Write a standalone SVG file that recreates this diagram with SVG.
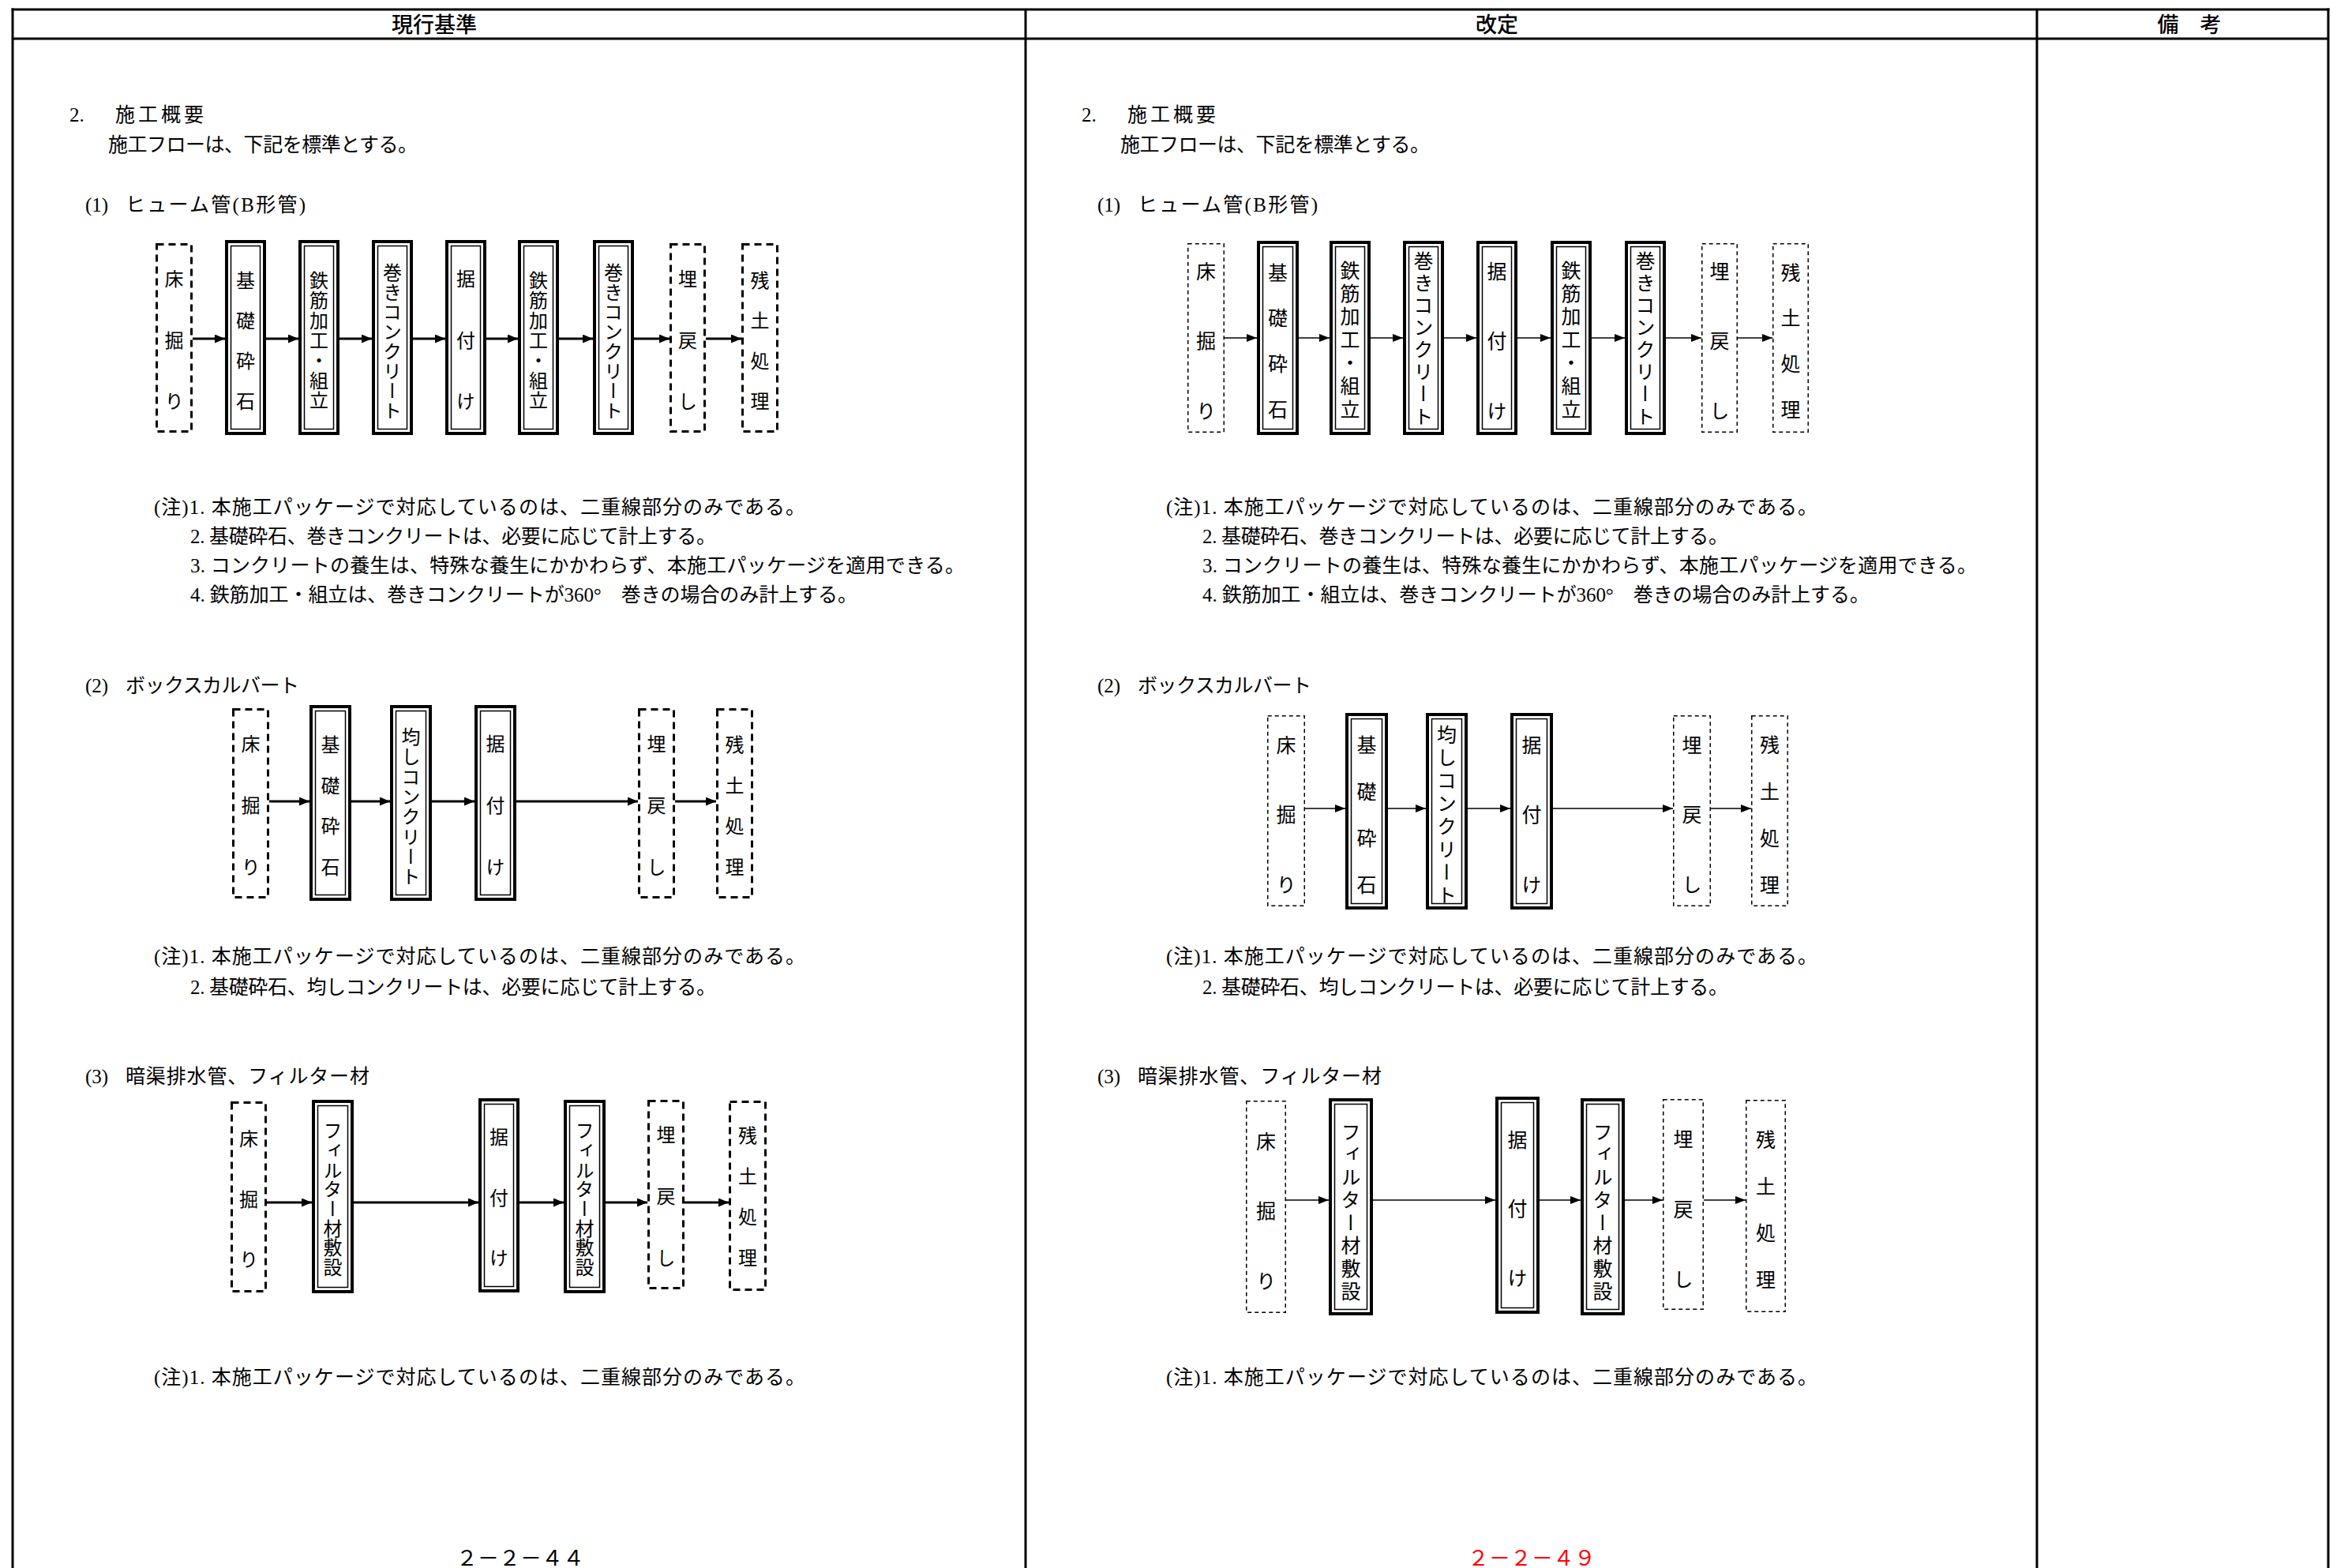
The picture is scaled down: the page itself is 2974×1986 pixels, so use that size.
<svg xmlns="http://www.w3.org/2000/svg" width="2974" height="1986" viewBox="0 0 2974 1986">
<defs>
<style>
.t{font-family:"Liberation Serif","Noto Sans CJK JP",serif;font-size:25px;font-weight:400;fill:#000}
.h{font-family:"Noto Sans CJK JP","Liberation Sans",sans-serif;font-size:27px;font-weight:500;fill:#000}
.bl text{font-family:"Noto Sans CJK JP",sans-serif;font-size:24px;font-weight:400;fill:#000;writing-mode:vertical-rl}
.br text{font-family:"Noto Sans CJK JP",sans-serif;font-size:25px;font-weight:400;fill:#000;writing-mode:vertical-rl}
.pg{font-family:"Noto Sans CJK JP",sans-serif;font-size:27px}
.frame{stroke:#000;stroke-width:3;fill:none}
.dl{fill:#fff;stroke:#000;stroke-width:3;stroke-dasharray:9 6}
.dr{fill:#fff;stroke:#000;stroke-width:1.5;stroke-dasharray:5 4}
.o{fill:#fff;stroke:#000;stroke-width:4}
.i{fill:none;stroke:#000;stroke-width:1.5}
.al{stroke:#000;stroke-width:3;fill:none;marker-end:url(#ahL)}
.ar{stroke:#000;stroke-width:1.5;fill:none;marker-end:url(#ahR)}
</style>
<marker id="ahL" markerWidth="13" markerHeight="11" refX="13" refY="5.5" orient="auto" markerUnits="userSpaceOnUse"><path d="M0,0 L13,5.5 L0,11 z" fill="#000"/></marker>
<marker id="ahR" markerWidth="13" markerHeight="10" refX="13" refY="5" orient="auto" markerUnits="userSpaceOnUse"><path d="M0,0 L13,5 L0,10 z" fill="#000"/></marker>
</defs>
<rect width="2974" height="1986" fill="#fff"/>

<g id="table">
<line class="frame" x1="14.5" y1="12" x2="2950.5" y2="12"/>
<line class="frame" x1="16" y1="49" x2="2949" y2="49"/>
<line class="frame" x1="16" y1="10.5" x2="16" y2="1986"/>
<line class="frame" x1="1299" y1="12" x2="1299" y2="1986"/>
<line class="frame" x1="2580" y1="12" x2="2580" y2="1986"/>
<line class="frame" x1="2949" y1="10.5" x2="2949" y2="1986"/>
<text class="h" x="550" y="41" text-anchor="middle">現行基準</text>
<text class="h" x="1896" y="41" text-anchor="middle">改定</text>
<text class="h" x="2773" y="41" text-anchor="middle">備　考</text>
</g>

<g id="text-left">
<text class="t" x="88" y="153.5">2.<tspan x="146" textLength="112">施工概要</tspan></text>
<text class="t" x="137" y="191.5" textLength="392">施工フローは、下記を標準とする。</text>
<text class="t" x="108" y="267.5">(1)<tspan x="159" textLength="228">ヒューム管(B形管)</tspan></text>
<text class="t" x="195" y="650.5" textLength="825">(注)1. 本施工パッケージで対応しているのは、二重線部分のみである。</text>
<text class="t" x="241" y="687.5" textLength="666">2. 基礎砕石、巻きコンクリートは、必要に応じて計上する。</text>
<text class="t" x="241" y="724.5" textLength="981">3. コンクリートの養生は、特殊な養生にかかわらず、本施工パッケージを適用できる。</text>
<text class="t" x="241" y="761.5" textLength="845">4. 鉄筋加工・組立は、巻きコンクリートが360°　巻きの場合のみ計上する。</text>
<text class="t" x="108" y="876.5">(2)<tspan x="159" textLength="220">ボックスカルバート</tspan></text>
<text class="t" x="195" y="1220" textLength="825">(注)1. 本施工パッケージで対応しているのは、二重線部分のみである。</text>
<text class="t" x="241" y="1259" textLength="666">2. 基礎砕石、均しコンクリートは、必要に応じて計上する。</text>
<text class="t" x="108" y="1371.5">(3)<tspan x="159" textLength="309">暗渠排水管、フィルター材</tspan></text>
<text class="t" x="195" y="1752.5" textLength="825">(注)1. 本施工パッケージで対応しているのは、二重線部分のみである。</text>
<text class="pg" x="578" y="1983" textLength="162" fill="#000">２－２－４４</text>
</g>

<g id="text-right">
<text class="t" x="1370" y="153.5">2.<tspan x="1428" textLength="112">施工概要</tspan></text>
<text class="t" x="1419" y="191.5" textLength="392">施工フローは、下記を標準とする。</text>
<text class="t" x="1390" y="267.5">(1)<tspan x="1441" textLength="228">ヒューム管(B形管)</tspan></text>
<text class="t" x="1477" y="650.5" textLength="825">(注)1. 本施工パッケージで対応しているのは、二重線部分のみである。</text>
<text class="t" x="1523" y="687.5" textLength="666">2. 基礎砕石、巻きコンクリートは、必要に応じて計上する。</text>
<text class="t" x="1523" y="724.5" textLength="981">3. コンクリートの養生は、特殊な養生にかかわらず、本施工パッケージを適用できる。</text>
<text class="t" x="1523" y="761.5" textLength="845">4. 鉄筋加工・組立は、巻きコンクリートが360°　巻きの場合のみ計上する。</text>
<text class="t" x="1390" y="876.5">(2)<tspan x="1441" textLength="220">ボックスカルバート</tspan></text>
<text class="t" x="1477" y="1220" textLength="825">(注)1. 本施工パッケージで対応しているのは、二重線部分のみである。</text>
<text class="t" x="1523" y="1259" textLength="666">2. 基礎砕石、均しコンクリートは、必要に応じて計上する。</text>
<text class="t" x="1390" y="1371.5">(3)<tspan x="1441" textLength="309">暗渠排水管、フィルター材</tspan></text>
<text class="t" x="1477" y="1752.5" textLength="825">(注)1. 本施工パッケージで対応しているのは、二重線部分のみである。</text>
<text class="pg" x="1859" y="1983" textLength="162" fill="#ff0000">２－２－４９</text>
</g>

<g id="connectors">
<line class="al" x1="244" y1="429" x2="285" y2="429"/>
<line class="al" x1="337" y1="429" x2="378" y2="429"/>
<line class="al" x1="430" y1="429" x2="471" y2="429"/>
<line class="al" x1="523" y1="429" x2="564" y2="429"/>
<line class="al" x1="616" y1="429" x2="656" y2="429"/>
<line class="al" x1="708" y1="429" x2="751" y2="429"/>
<line class="al" x1="803" y1="429" x2="848" y2="429"/>
<line class="al" x1="894" y1="429" x2="939" y2="429"/>

<line class="ar" x1="1551" y1="428" x2="1592" y2="428"/>
<line class="ar" x1="1645" y1="428" x2="1684" y2="428"/>
<line class="ar" x1="1736" y1="428" x2="1777" y2="428"/>
<line class="ar" x1="1829" y1="428" x2="1870" y2="428"/>
<line class="ar" x1="1922" y1="428" x2="1964" y2="428"/>
<line class="ar" x1="2016" y1="428" x2="2058" y2="428"/>
<line class="ar" x1="2110" y1="428" x2="2155" y2="428"/>
<line class="ar" x1="2201" y1="428" x2="2245" y2="428"/>

<line class="al" x1="341" y1="1015" x2="392" y2="1015"/>
<line class="al" x1="445" y1="1015" x2="494" y2="1015"/>
<line class="al" x1="547" y1="1015" x2="601" y2="1015"/>
<line class="al" x1="654" y1="1015" x2="808" y2="1015"/>
<line class="al" x1="855" y1="1015" x2="907" y2="1015"/>

<line class="ar" x1="1653" y1="1024" x2="1704" y2="1024"/>
<line class="ar" x1="1758" y1="1024" x2="1806" y2="1024"/>
<line class="ar" x1="1859" y1="1024" x2="1913" y2="1024"/>
<line class="ar" x1="1967" y1="1024" x2="2119" y2="1024"/>
<line class="ar" x1="2167" y1="1024" x2="2218" y2="1024"/>

<line class="al" x1="338" y1="1523" x2="395" y2="1523"/>
<line class="al" x1="448" y1="1523" x2="606" y2="1523"/>
<line class="al" x1="658" y1="1523" x2="714" y2="1523"/>
<line class="al" x1="767" y1="1523" x2="820" y2="1523"/>
<line class="al" x1="867" y1="1523" x2="923" y2="1523"/>

<line class="ar" x1="1629" y1="1520" x2="1683" y2="1520"/>
<line class="ar" x1="1739" y1="1520" x2="1894" y2="1520"/>
<line class="ar" x1="1950" y1="1520" x2="2002" y2="1520"/>
<line class="ar" x1="2058" y1="1520" x2="2106" y2="1520"/>
<line class="ar" x1="2158" y1="1520" x2="2211" y2="1520"/>
</g>

<!-- Flow 1 left -->
<g id="L1-1" class="bl"><rect class="dl" x="198.5" y="309.5" width="44" height="237"/>
<text x="220.5" y="341">床</text><text x="220.5" y="418.5">掘</text><text x="220.5" y="496">り</text></g>
<g id="L1-2" class="bl"><rect class="o" x="287" y="306" width="48" height="243"/><rect class="i" x="292.5" y="311.5" width="37" height="232"/>
<text x="311" y="343">基</text><text x="311" y="394">礎</text><text x="311" y="445">砕</text><text x="311" y="496">石</text></g>
<g id="L1-3" class="bl"><rect class="o" x="380" y="306" width="48" height="243"/><rect class="i" x="385.5" y="311.5" width="37" height="232"/>
<text x="404" y="343">鉄</text><text x="404" y="368.3">筋</text><text x="404" y="393.7">加</text><text x="404" y="419">工</text><text x="404" y="444.3">・</text><text x="404" y="469.7">組</text><text x="404" y="495">立</text></g>
<g id="L1-4" class="bl"><rect class="o" x="473" y="306" width="48" height="243"/><rect class="i" x="478.5" y="311.5" width="37" height="232"/>
<text x="497" y="333">巻</text><text x="497" y="358">き</text><text x="497" y="383">コ</text><text x="497" y="408">ン</text><text x="497" y="433">ク</text><text x="497" y="458">リ</text><text x="497" y="483">ー</text><text x="497" y="508">ト</text></g>
<g id="L1-5" class="bl"><rect class="o" x="566" y="306" width="48" height="243"/><rect class="i" x="571.5" y="311.5" width="37" height="232"/>
<text x="590" y="341">据</text><text x="590" y="418.5">付</text><text x="590" y="496">け</text></g>
<g id="L1-6" class="bl"><rect class="o" x="658" y="306" width="48" height="243"/><rect class="i" x="663.5" y="311.5" width="37" height="232"/>
<text x="682" y="343">鉄</text><text x="682" y="368.3">筋</text><text x="682" y="393.7">加</text><text x="682" y="419">工</text><text x="682" y="444.3">・</text><text x="682" y="469.7">組</text><text x="682" y="495">立</text></g>
<g id="L1-7" class="bl"><rect class="o" x="753" y="306" width="48" height="243"/><rect class="i" x="758.5" y="311.5" width="37" height="232"/>
<text x="777" y="333">巻</text><text x="777" y="358">き</text><text x="777" y="383">コ</text><text x="777" y="408">ン</text><text x="777" y="433">ク</text><text x="777" y="458">リ</text><text x="777" y="483">ー</text><text x="777" y="508">ト</text></g>
<g id="L1-8" class="bl"><rect class="dl" x="849.5" y="309.5" width="43" height="237"/>
<text x="871" y="341">埋</text><text x="871" y="418.5">戻</text><text x="871" y="496">し</text></g>
<g id="L1-9" class="bl"><rect class="dl" x="940.5" y="309.5" width="44" height="237"/>
<text x="962.5" y="343">残</text><text x="962.5" y="394">土</text><text x="962.5" y="445">処</text><text x="962.5" y="496">理</text></g>

<!-- Flow 1 right -->
<g id="R1-1" class="br"><rect class="dr" x="1504.75" y="308.75" width="45.5" height="238.5"/>
<text x="1527.5" y="330.5">床</text><text x="1527.5" y="419">掘</text><text x="1527.5" y="507.5">り</text></g>
<g id="R1-2" class="br"><rect class="o" x="1594" y="307" width="49" height="242"/><rect class="i" x="1599.5" y="312.5" width="38" height="231"/>
<text x="1618.5" y="332.5">基</text><text x="1618.5" y="390.2">礎</text><text x="1618.5" y="447.8">砕</text><text x="1618.5" y="505.5">石</text></g>
<g id="R1-3" class="br"><rect class="o" x="1686" y="307" width="48" height="242"/><rect class="i" x="1691.5" y="312.5" width="37" height="231"/>
<text x="1710" y="329.5">鉄</text><text x="1710" y="358.8">筋</text><text x="1710" y="388.2">加</text><text x="1710" y="417.5">工</text><text x="1710" y="446.8">・</text><text x="1710" y="476.2">組</text><text x="1710" y="505.5">立</text></g>
<g id="R1-4" class="br"><rect class="o" x="1779" y="307" width="48" height="242"/><rect class="i" x="1784.5" y="312.5" width="37" height="231"/>
<text x="1803" y="317.5">巻</text><text x="1803" y="345.6">き</text><text x="1803" y="373.8">コ</text><text x="1803" y="401.9">ン</text><text x="1803" y="430.1">ク</text><text x="1803" y="458.2">リ</text><text x="1803" y="486.4">ー</text><text x="1803" y="514.5">ト</text></g>
<g id="R1-5" class="br"><rect class="o" x="1872" y="307" width="48" height="242"/><rect class="i" x="1877.5" y="312.5" width="37" height="231"/>
<text x="1896" y="330.5">据</text><text x="1896" y="419">付</text><text x="1896" y="507.5">け</text></g>
<g id="R1-6" class="br"><rect class="o" x="1966" y="307" width="48" height="242"/><rect class="i" x="1971.5" y="312.5" width="37" height="231"/>
<text x="1990" y="329.5">鉄</text><text x="1990" y="358.8">筋</text><text x="1990" y="388.2">加</text><text x="1990" y="417.5">工</text><text x="1990" y="446.8">・</text><text x="1990" y="476.2">組</text><text x="1990" y="505.5">立</text></g>
<g id="R1-7" class="br"><rect class="o" x="2060" y="307" width="48" height="242"/><rect class="i" x="2065.5" y="312.5" width="37" height="231"/>
<text x="2084" y="317.5">巻</text><text x="2084" y="345.6">き</text><text x="2084" y="373.8">コ</text><text x="2084" y="401.9">ン</text><text x="2084" y="430.1">ク</text><text x="2084" y="458.2">リ</text><text x="2084" y="486.4">ー</text><text x="2084" y="514.5">ト</text></g>
<g id="R1-8" class="br"><rect class="dr" x="2155.75" y="308.75" width="44.5" height="238.5"/>
<text x="2178" y="330.5">埋</text><text x="2178" y="419">戻</text><text x="2178" y="507.5">し</text></g>
<g id="R1-9" class="br"><rect class="dr" x="2245.75" y="308.75" width="44.5" height="238.5"/>
<text x="2268" y="332.5">残</text><text x="2268" y="390.2">土</text><text x="2268" y="447.8">処</text><text x="2268" y="505.5">理</text></g>

<!-- Flow 2 left -->
<g id="L2-1" class="bl"><rect class="dl" x="295.5" y="898.5" width="44" height="238"/>
<text x="317.5" y="930">床</text><text x="317.5" y="1008">掘</text><text x="317.5" y="1086">り</text></g>
<g id="L2-2" class="bl"><rect class="o" x="394" y="895" width="49" height="244"/><rect class="i" x="399.5" y="900.5" width="38" height="233"/>
<text x="418.5" y="931">基</text><text x="418.5" y="982.7">礎</text><text x="418.5" y="1034.3">砕</text><text x="418.5" y="1086">石</text></g>
<g id="L2-3" class="bl"><rect class="o" x="496" y="895" width="49" height="244"/><rect class="i" x="501.5" y="900.5" width="38" height="233"/>
<text x="520.5" y="921">均</text><text x="520.5" y="946.3">し</text><text x="520.5" y="971.6">コ</text><text x="520.5" y="996.9">ン</text><text x="520.5" y="1022.1">ク</text><text x="520.5" y="1047.4">リ</text><text x="520.5" y="1072.7">ー</text><text x="520.5" y="1098">ト</text></g>
<g id="L2-4" class="bl"><rect class="o" x="603" y="895" width="49" height="244"/><rect class="i" x="608.5" y="900.5" width="38" height="233"/>
<text x="627.5" y="930">据</text><text x="627.5" y="1008">付</text><text x="627.5" y="1086">け</text></g>
<g id="L2-5" class="bl"><rect class="dl" x="809.5" y="898.5" width="44" height="238"/>
<text x="831.5" y="930">埋</text><text x="831.5" y="1008">戻</text><text x="831.5" y="1086">し</text></g>
<g id="L2-6" class="bl"><rect class="dl" x="908.5" y="898.5" width="44" height="238"/>
<text x="930.5" y="931">残</text><text x="930.5" y="982.7">土</text><text x="930.5" y="1034.3">処</text><text x="930.5" y="1086">理</text></g>

<!-- Flow 2 right -->
<g id="R2-1" class="br"><rect class="dr" x="1605.75" y="906.75" width="46.5" height="240.5"/>
<text x="1629" y="930.5">床</text><text x="1629" y="1019">掘</text><text x="1629" y="1107.5">り</text></g>
<g id="R2-2" class="br"><rect class="o" x="1706" y="905" width="50" height="245"/><rect class="i" x="1711.5" y="910.5" width="39" height="234"/>
<text x="1731" y="930.5">基</text><text x="1731" y="989.5">礎</text><text x="1731" y="1048.5">砕</text><text x="1731" y="1107.5">石</text></g>
<g id="R2-3" class="br"><rect class="o" x="1808" y="905" width="49" height="245"/><rect class="i" x="1813.5" y="910.5" width="38" height="234"/>
<text x="1832.5" y="917.5">均</text><text x="1832.5" y="946.5">し</text><text x="1832.5" y="975.5">コ</text><text x="1832.5" y="1004.5">ン</text><text x="1832.5" y="1033.5">ク</text><text x="1832.5" y="1062.5">リ</text><text x="1832.5" y="1091.5">ー</text><text x="1832.5" y="1120.5">ト</text></g>
<g id="R2-4" class="br"><rect class="o" x="1915" y="905" width="50" height="245"/><rect class="i" x="1920.5" y="910.5" width="39" height="234"/>
<text x="1940" y="930.5">据</text><text x="1940" y="1019">付</text><text x="1940" y="1107.5">け</text></g>
<g id="R2-5" class="br"><rect class="dr" x="2119.75" y="906.75" width="46.5" height="240.5"/>
<text x="2143" y="930.5">埋</text><text x="2143" y="1019">戻</text><text x="2143" y="1107.5">し</text></g>
<g id="R2-6" class="br"><rect class="dr" x="2218.75" y="906.75" width="45.5" height="240.5"/>
<text x="2241.5" y="930.5">残</text><text x="2241.5" y="989.5">土</text><text x="2241.5" y="1048.5">処</text><text x="2241.5" y="1107.5">理</text></g>

<!-- Flow 3 left -->
<g id="L3-1" class="bl"><rect class="dl" x="293.5" y="1396.5" width="43" height="239"/>
<text x="315" y="1430">床</text><text x="315" y="1506.5">掘</text><text x="315" y="1583">り</text></g>
<g id="L3-2" class="bl"><rect class="o" x="397" y="1395" width="49" height="241"/><rect class="i" x="402.5" y="1400.5" width="38" height="230"/>
<text x="421.5" y="1420">フ</text><text x="421.5" y="1444.7">ィ</text><text x="421.5" y="1469.4">ル</text><text x="421.5" y="1494.1">タ</text><text x="421.5" y="1518.9">ー</text><text x="421.5" y="1543.6">材</text><text x="421.5" y="1568.3">敷</text><text x="421.5" y="1593">設</text></g>
<g id="L3-3" class="bl"><rect class="o" x="608" y="1393" width="48" height="242"/><rect class="i" x="613.5" y="1398.5" width="37" height="231"/>
<text x="632" y="1428">据</text><text x="632" y="1504.5">付</text><text x="632" y="1581">け</text></g>
<g id="L3-4" class="bl"><rect class="o" x="716" y="1395" width="49" height="241"/><rect class="i" x="721.5" y="1400.5" width="38" height="230"/>
<text x="740.5" y="1420">フ</text><text x="740.5" y="1444.7">ィ</text><text x="740.5" y="1469.4">ル</text><text x="740.5" y="1494.1">タ</text><text x="740.5" y="1518.9">ー</text><text x="740.5" y="1543.6">材</text><text x="740.5" y="1568.3">敷</text><text x="740.5" y="1593">設</text></g>
<g id="L3-5" class="bl"><rect class="dl" x="821.5" y="1394.5" width="44" height="237"/>
<text x="843.5" y="1425">埋</text><text x="843.5" y="1503">戻</text><text x="843.5" y="1581">し</text></g>
<g id="L3-6" class="bl"><rect class="dl" x="924.5" y="1395.5" width="45" height="238"/>
<text x="947" y="1426">残</text><text x="947" y="1477.7">土</text><text x="947" y="1529.3">処</text><text x="947" y="1581">理</text></g>

<!-- Flow 3 right -->
<g id="R3-1" class="br"><rect class="dr" x="1578.75" y="1394.75" width="49.5" height="267.5"/>
<text x="1603.5" y="1432.5">床</text><text x="1603.5" y="1521">掘</text><text x="1603.5" y="1609.5">り</text></g>
<g id="R3-2" class="br"><rect class="o" x="1685" y="1393" width="52" height="271"/><rect class="i" x="1690.5" y="1398.5" width="41" height="260"/>
<text x="1711" y="1420.5">フ</text><text x="1711" y="1449.4">ィ</text><text x="1711" y="1478.2">ル</text><text x="1711" y="1507.1">タ</text><text x="1711" y="1535.9">ー</text><text x="1711" y="1564.8">材</text><text x="1711" y="1593.6">敷</text><text x="1711" y="1622.5">設</text></g>
<g id="R3-3" class="br"><rect class="o" x="1896" y="1391" width="52" height="271"/><rect class="i" x="1901.5" y="1396.5" width="41" height="260"/>
<text x="1922" y="1430.5">据</text><text x="1922" y="1518">付</text><text x="1922" y="1605.5">け</text></g>
<g id="R3-4" class="br"><rect class="o" x="2004" y="1393" width="52" height="271"/><rect class="i" x="2009.5" y="1398.5" width="41" height="260"/>
<text x="2030" y="1420.5">フ</text><text x="2030" y="1449.4">ィ</text><text x="2030" y="1478.2">ル</text><text x="2030" y="1507.1">タ</text><text x="2030" y="1535.9">ー</text><text x="2030" y="1564.8">材</text><text x="2030" y="1593.6">敷</text><text x="2030" y="1622.5">設</text></g>
<g id="R3-5" class="br"><rect class="dr" x="2106.75" y="1392.75" width="50.5" height="265.5"/>
<text x="2132" y="1429.5">埋</text><text x="2132" y="1518.5">戻</text><text x="2132" y="1607.5">し</text></g>
<g id="R3-6" class="br"><rect class="dr" x="2211.75" y="1393.75" width="49.5" height="267.5"/>
<text x="2236.5" y="1430.5">残</text><text x="2236.5" y="1489.5">土</text><text x="2236.5" y="1548.5">処</text><text x="2236.5" y="1607.5">理</text></g>
</svg>
